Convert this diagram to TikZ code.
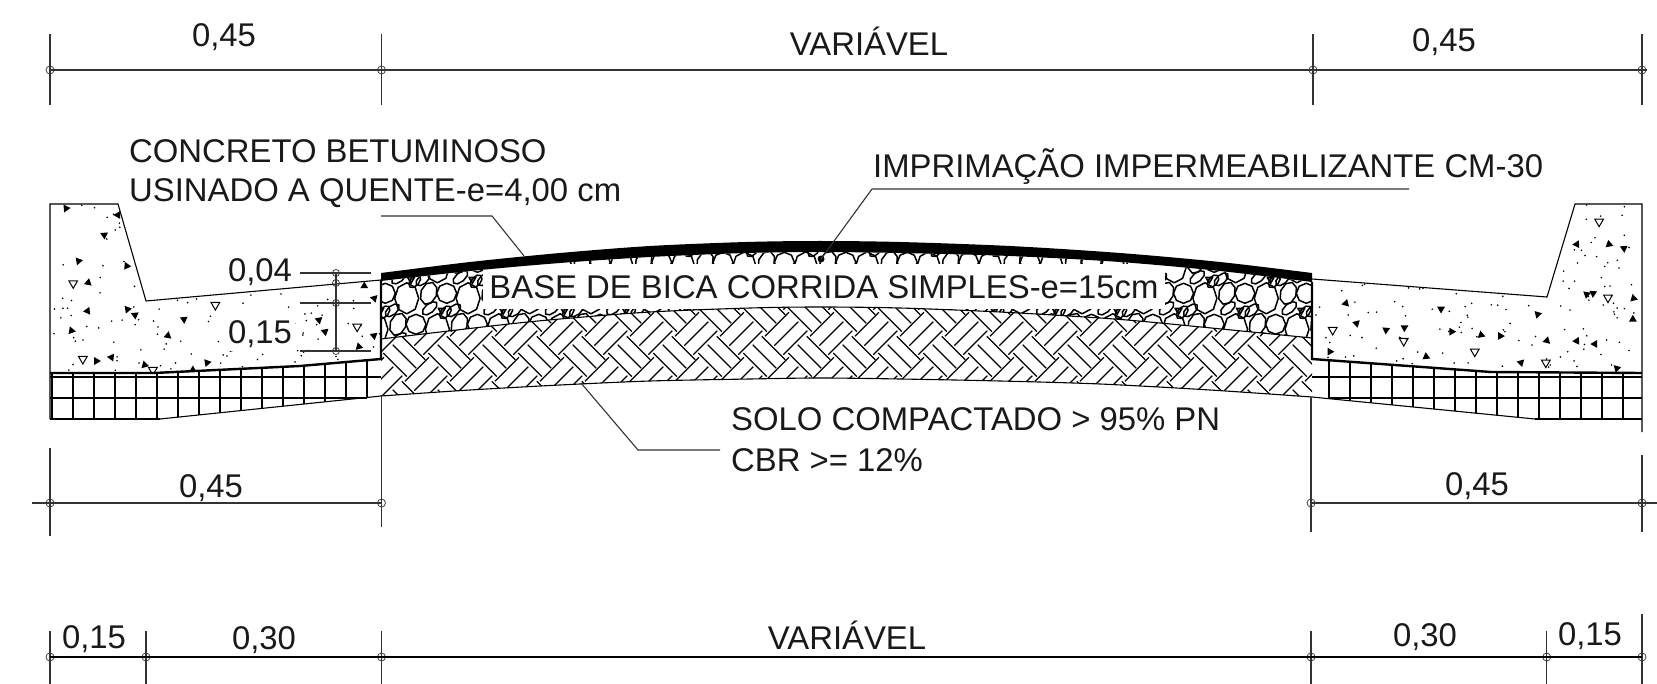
\documentclass[tikz,border=0pt]{standalone}
\usepackage{fontspec}
\setmainfont{Liberation Sans}
\tikzset{
  cad/.style={x=1pt, y=-1pt, font=\fontsize{32.85}{38}\selectfont},
  dimline/.style={draw=black!80, line width=1.1pt},
  dimmark/.style={draw=black!75, circle, line width=0.8pt, minimum size=8pt, inner sep=0pt},
  leader/.style={draw=black!80, line width=1.1pt},
  label/.style={inner sep=0pt, text=black!90},
  outline/.style={draw=black, line width=1.1pt},
  heavy/.style={draw=black, line width=2.4pt},
  gridline/.style={draw=black, line width=1.6pt},
  stoneline/.style={draw=black, line width=1.5pt, line join=round},
  hbline/.style={draw=black, line width=1.25pt},
}
\begin{document}
\begin{tikzpicture}[cad]
\useasboundingbox (0,0) rectangle (1657,684);

\def \asphtop {(381,273) (470,262) (560,253) (650,246) (746,242) (820,241) (900,242) (1010,246) (1120,253) (1220,262) (1312,273)}
\def \asphbot {(1312,282) (1220,271) (1120,262) (1010,256) (900,253) (820,252) (746,253) (650,257) (560,263) (470,271) (381,281)}
\def \basebot {(381,339) (500,325) (560,319) (650,312) (750,308) (820,307) (900,308) (1000,312) (1100,318) (1160,323) (1312,338)}
\def \solotop {(1312,338) (1160,323) (1100,318) (1000,312) (900,308) (820,307) (750,308) (650,312) (560,319) (500,325) (381,339)}
\def \solobot {(381,396) (470,390) (560,385) (650,381) (750,379) (820,378) (900,379) (1000,381) (1100,384) (1210,390) (1312,397)}

% gravel base
\begin{scope}
  \clip plot[smooth] coordinates {\asphbot} -- plot[smooth] coordinates {\basebot} -- cycle;
  \foreach \j in {-1,...,2}
  \foreach \i in {-2,...,16}
  {
    \pgfmathsetmacro \cx {406.7 + 61.4*\i + 30.7*\j}
    \pgfmathsetmacro \cy {298.3 + 31*\j}
    \foreach \dx/\dy/\a/\b/\r in {0/0/12/15.5/0, 22/-5/8/11.5/-20, 40/-5/10/10/0,
      23/10/4.5/9/-50, 47/12/4.5/8.5/-50, 8/-17/4.5/7.5/-40}
    {
      \draw[stoneline, shift={(\cx+\dx,\cy+\dy)}, rotate=\r, xscale=\a, yscale=\b]
        (0:1) \foreach \t in {45,90,...,315} { -- (\t:1) } -- cycle;
    }
    \draw[stoneline, fill=black!40, shift={(\cx+35,\cy+12)}]
      (90:4) -- (210:4) -- (330:4) -- cycle;
  }
\end{scope}
\node[label, fill=white, minimum width=682pt, minimum height=45pt] (basetxt) at (824,287)
  {BASE DE BICA CORRIDA SIMPLES-e=15cm};

% compacted soil
\begin{scope}
  \clip plot[smooth] coordinates {\solotop} -- plot[smooth] coordinates {\solobot} -- cycle;
  \foreach \i in {-11,...,11}
  \foreach \j in {-1,0,1}
  {
    \begin{scope}[shift={(800+45*\i,308+45*\j)}]
      \foreach \x/\y in {33.3/45, 42.7/36.7, 51.7/28.3}
        \draw[hbline] (\x,\y) -- ++(23.5,23.5);
      \foreach \x/\y in {10/28.3, 19.3/37.7, 28.3/46.7}
        \draw[hbline] (\x,\y) -- ++(24,-24);
    \end{scope}
  }
\end{scope}
\draw[outline] plot[smooth] coordinates {\solotop};
\draw[outline] plot[smooth] coordinates {\solobot};

% asphalt
\fill[black] plot[smooth] coordinates {\asphtop} -- plot[smooth] coordinates {\asphbot} -- cycle;

% concrete kerbs
\def \curbleft {(50,373) -- (50,204) -- (118,204) -- (146,301) -- (381,280) -- (381,359) -- (300,366) -- (154,373)}
\def \curbright {(1312,279) -- (1547,297) -- (1575,204) -- (1642,204) -- (1642,373) -- (1491,372) -- (1312,359)}
\begin{scope}
  \clip \curbleft -- cycle;
  \pgfmathsetseed{4117}
  \foreach \n in {1,...,190}
    \fill ({50+rnd*331},{204+rnd*170}) circle (0.9);
  \foreach \x/\y in {185/85,330/105,292/165,220/243,355/258,247/308,245/393,357/388,378/405,200/452,
    270/543,312/532,405/555,540/570,580/548,470/467,515/418,1020/318,1048/355,893/420,910/455,1047/467,1005/500}
    \fill[shift={({\x/2.8},{180+\y/3})}, rotate=\x*7] (90:4.5) -- (210:4.5) -- (330:4.5) -- cycle;
  \foreach \x/\y in {205/310,232/537,428/570,603/375,1000/440}
    \draw[line width=1pt, shift={({\x/2.8},{180+\y/3})}] (90:5) -- (210:5) -- (330:5) -- cycle;
\end{scope}
\begin{scope}
  \clip \curbright -- cycle;
  \pgfmathsetseed{2291}
  \foreach \n in {1,...,190}
    \fill ({1312+rnd*330},{204+rnd*170}) circle (0.9);
  \foreach \x/\y in {1342/193,1433/193,1475/205,1370/343,1388/340,1502/355,1500/418,1393/492,1232/403,1258/482,
    1342/483,1185/548,1455/565,1127/468,1073/465,990/455,960/387,857/443,805/450,692/370,722/430,647/515,918/530}
    \fill[shift={({1100+\x/2.815},{180+\y/3})}, rotate=\x*7] (90:4.5) -- (210:4.5) -- (330:4.5) -- cycle;
  \foreach \x/\y in {1405/125,1430/353,1255/548,855/483,655/450,1055/515}
    \draw[line width=1pt, shift={({1100+\x/2.815},{180+\y/3})}] (90:5) -- (210:5) -- (330:5) -- cycle;
\end{scope}
\draw[outline] (50,419) -- \curbleft;
\draw[outline] (1642,432) -- (1642,204) -- (1575,204) -- (1547,297) -- (1312,279);
\draw[heavy] (50,373) -- (154,373) -- (300,366) -- (381,359) -- (381,280);
\draw[heavy] (1312,282) -- (1312,359) -- (1491,372) -- (1642,373);

% block courses
\begin{scope}
  \clip (50,373) -- (154,373) -- (300,366) -- (381,359) -- (381,396) -- (160,419) -- (50,419) -- cycle;
  \foreach \x in {52,73,...,367}
    \draw[gridline] (\x,350) -- (\x,425);
\end{scope}
\begin{scope}
  \clip (1312,359) -- (1491,372) -- (1642,373) -- (1642,419) -- (1535,419) -- (1312,397) -- cycle;
  \foreach \x in {1329,1350,...,1630}
    \draw[gridline] (\x,350) -- (\x,425);
\end{scope}
\draw[gridline] (50,377) -- (381,377);
\draw[gridline] (50,398) -- (367,398);
\draw[heavy] (50,419) -- (160,419);
\draw[outline] (160,419) -- (381,396);
\draw[gridline] (1312,377) -- (1642,377);
\draw[gridline] (1329,398) -- (1642,398);
\draw[heavy] (1535,419) -- (1642,419);
\draw[outline] (1312,397) -- (1535,419);

% dimension rows
\foreach \s/\x/\y/\a/\b in {a1/50/70/36/35, a2/381.5/70/36/35, a3/1313/70/36/35, a4/1642/70/36/35,
  b1/50/503/55/33, b2/381.5/503/107/24, b3/1311/503/106/29, b4/1642/503/48/29,
  c1/50/657/26/27, c2/146/657/26/27, c3/381.5/657/26/27, c4/1311/657/26/27, c5/1546.7/657/26/27, c6/1642/657/43/27}
{
  \node[dimmark] (\s) at (\x,\y) {};
  \draw[dimline] (\s.center) ++(0,-\a) -- ++(0,\a+\b);
}
\coordinate (aend) at (1647,70);
\coordinate (bstart) at (32,503);
\coordinate (bend) at (1657,503);
\draw[dimline] (a1.center) -- (a2.center) -- (a3.center) -- (a4.center) -- (aend);
\draw[dimline] (bstart) -- (b1.center) -- (b2.center);
\draw[dimline] (b3.center) -- (b4.center) -- (bend);
\draw[dimline, draw=black] (c1.center) -- (c6.center);

% layer thickness dimensions
\foreach \s/\y in {d1/273, d2/283, d3/303, d4/351}
  \node[dimmark, minimum size=7pt] (\s) at (336,\y) {};
\draw[dimline] (d1.center) -- (d4.center);
\foreach \s in {d1,d3,d4}
  \draw[dimline] (\s.center) ++(-36,0) -- ++(71,0);

% leaders
\node[fill=black, circle, inner sep=0pt, minimum size=7pt] (impdot) at (821,259) {};
\coordinate (conc1) at (381,216);
\coordinate (conc2) at (492,216);
\coordinate (conc3) at (524,256);
\coordinate (imp1) at (1409,189);
\coordinate (imp2) at (872,189);
\coordinate (solo1) at (581,383);
\coordinate (solo2) at (638,450);
\coordinate (solo3) at (720,450);
\draw[leader] (conc1) -- (conc2) -- (conc3);
\draw[leader] (imp1) -- (imp2) -- (impdot.center);
\draw[leader] (solo1) -- (solo2) -- (solo3);

% texts
\foreach \s/\x/\y/\t in {t1/224/37/{0,45}, t2/869/41/{VARIÁVEL}, t3/1444/42/{0,45},
  t4/211/488/{0,45}, t5/1477/486/{0,45},
  t6/94/639/{0,15}, t7/264/640/{0,30}, t8/847/635/{VARIÁVEL}, t9/1425/637/{0,30}, t10/1590/636/{0,15},
  t11/260/272/{0,04}}
  \node[label] (\s) at (\x,\y) {\t};
\node[label, fill=white, inner sep=3pt] (t12) at (260,334) {0,15};
\node[label, anchor=west] (conc) at (129,151) {CONCRETO BETUMINOSO};
\node[label, anchor=west] (usin) at (129,193) {USINADO A QUENTE-e=4,00 cm};
\node[label, anchor=west] (imp) at (873,167) {IMPRIMAÇÃO IMPERMEABILIZANTE CM-30};
\node[label, anchor=west] (solo) at (731,419) {SOLO COMPACTADO > 95\% PN};
\node[label, anchor=west] (cbr) at (731,460) {CBR >= 12\%};
\end{tikzpicture}
\end{document}
